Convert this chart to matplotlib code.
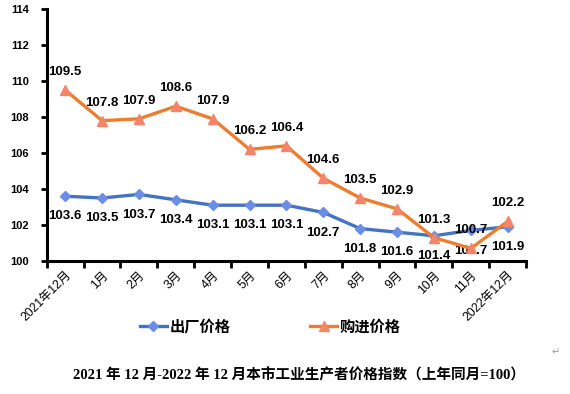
import matplotlib
matplotlib.use("Agg")
import matplotlib.pyplot as plt

# --- Data ---
months = ["2021年12月", "1月", "2月", "3月", "4月", "5月", "6月",
          "7月", "8月", "9月", "10月", "11月", "2022年12月"]
chuchang = [103.6, 103.5, 103.7, 103.4, 103.1, 103.1, 103.1,
            102.7, 101.8, 101.6, 101.4, 101.7, 101.9]
goujin = [109.5, 107.8, 107.9, 108.6, 107.9, 106.2, 106.4,
          104.6, 103.5, 102.9, 101.3, 100.7, 102.2]

BLUE = "#4472C4"
BLUE_M = "#6A8EE6"
ORANGE = "#ED7D31"
ORANGE_M = "#F4846A"
CJK = ["Liberation Sans", "Noto Sans CJK SC"]

fig = plt.figure(figsize=(5.7, 3.94), dpi=100)
ax = fig.add_axes([0.082, 0.3376, 0.841, 0.6394])

x = list(range(len(months)))
ax.plot(x, chuchang, color=BLUE, lw=2.4, marker="D", ms=5,
        mfc=BLUE_M, mec=BLUE_M, label="出厂价格", zorder=3)
ax.plot(x, goujin, color=ORANGE, lw=2.4, marker="^", ms=7,
        mfc=ORANGE_M, mec=ORANGE_M, label="购进价格", zorder=4)

for i in x:
    ax.annotate(f"{goujin[i]:.1f}", (i, goujin[i]), xytext=(0, 13),
                textcoords="offset points", ha="center", va="center",
                fontsize=9.5, fontweight="bold", family="Liberation Sans")
    ax.annotate(f"{chuchang[i]:.1f}", (i, chuchang[i]), xytext=(0, -14.5),
                textcoords="offset points", ha="center", va="center",
                fontsize=9.5, fontweight="bold", family="Liberation Sans")

ax.set_xlim(-0.5, len(months) - 0.5)
ax.set_ylim(100, 114)
ax.set_yticks(range(100, 115, 2))
ax.set_yticklabels([str(v) for v in range(100, 115, 2)],
                   fontsize=8, fontweight="bold", family="Liberation Sans")

ax.set_xticks([i - 0.5 for i in range(len(months) + 1)])
ax.set_xticklabels([])
ax.set_xticks(x, minor=True)
ax.set_xticklabels(months, minor=True, rotation=45, ha="right",
                   rotation_mode="anchor", fontsize=8.8, family=CJK)
ax.tick_params(axis="x", which="minor", length=0, pad=6)
ax.tick_params(axis="x", which="major", length=5, width=2, direction="out")
ax.tick_params(axis="y", length=4, width=2, direction="out", pad=9)

for s in ["top", "right"]:
    ax.spines[s].set_visible(False)
for s in ["left", "bottom"]:
    ax.spines[s].set_linewidth(2.2)

fig.legend(loc="center", bbox_to_anchor=(0.474, 0.17), ncol=2, frameon=False,
           handlelength=1.8, columnspacing=5.2, handletextpad=0.15,
           prop={"family": CJK, "weight": "bold", "size": 11})

fig.text(0.525, 0.048, "2021 年 12 月-2022 年 12 月本市工业生产者价格指数（上年同月=100）",
         ha="center", va="center", fontsize=10.5, fontweight=600,
         family=["Liberation Serif", "Noto Sans CJK SC"])
fig.text(0.975, 0.107, "↵", ha="center", va="center", fontsize=7,
         color="#999999", family="DejaVu Sans")

fig.savefig("out.png", dpi=100)
